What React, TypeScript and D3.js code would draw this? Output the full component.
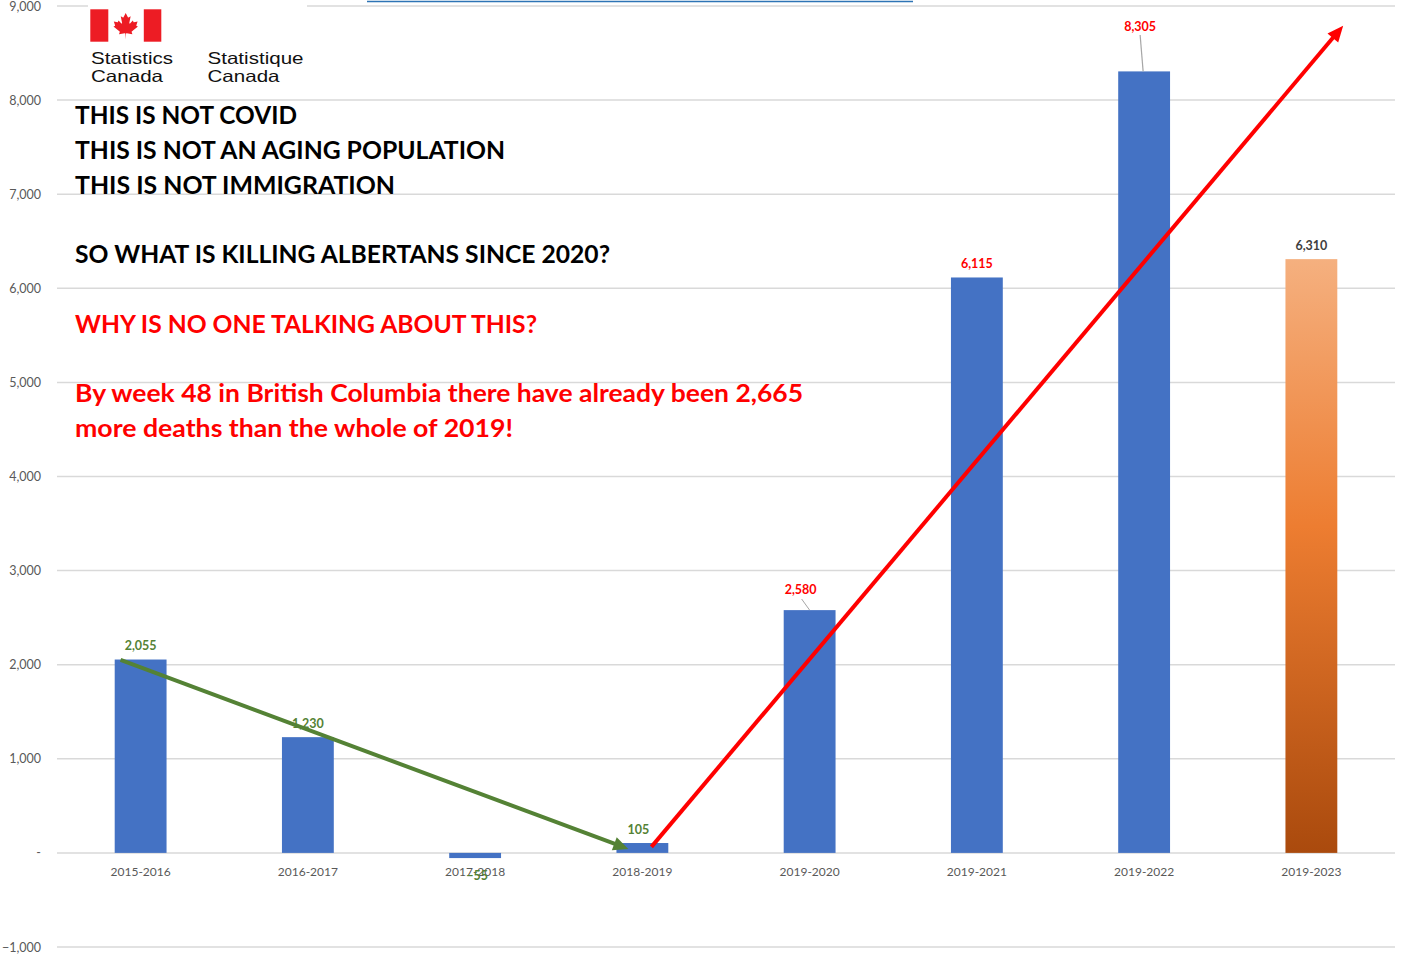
import React from "react";
import * as d3 from "d3";

const categories = ["2015-2016", "2016-2017", "2017-2018", "2018-2019", "2019-2020", "2019-2021", "2019-2022", "2019-2023"];
const values = [2055, 1230, -55, 105, 2580, 6115, 8305, 6310];
const labelColors = ["#548235", "#548235", "#548235", "#548235", "#FF0000", "#FF0000", "#FF0000", "#404040"];
const yTicks = [-1000, 0, 1000, 2000, 3000, 4000, 5000, 6000, 7000, 8000, 9000];
const blackLines = ["THIS IS NOT COVID", "THIS IS NOT AN AGING POPULATION", "THIS IS NOT IMMIGRATION"];
const question = "SO WHAT IS KILLING ALBERTANS SINCE 2020?";
const redLines = ["WHY IS NO ONE TALKING ABOUT THIS?", "By week 48 in British Columbia there have already been 2,665", "more deaths than the whole of 2019!"];
// arrows in data space: [category index offset, value]
const greenArrow = [[-0.12, 2050], [2.916, 42]];
const redArrow = [[3.054, 64], [7.19, 8790]];

const W = 1405, H = 957;
const LEFT = 57, RIGHT = 1395;

const fmt = (v: number) => (v === 0 ? "-" : d3.format(",")(v));

function arrowHead(x1: number, y1: number, x2: number, y2: number, len: number, half: number) {
  const a = Math.atan2(y2 - y1, x2 - x1);
  const bx = x2 - len * Math.cos(a), by = y2 - len * Math.sin(a);
  const px = -Math.sin(a), py = Math.cos(a);
  return `M${x2},${y2}L${bx + px * half},${by + py * half}L${bx - px * half},${by - py * half}Z`;
}

const leafPath =
  "M0,0l45,-863a95,95 0 0 1 111,-98l859,151l-116,-320a65,65 0 0 1 20,-73l941,-762l-212,-99a65,65 0 0 1 -34,-79l186,-572l-542,115a65,65 0 0 1 -73,-38l-105,-247l-423,454a65,65 0 0 1 -111,-57l204,-1052l-327,189a65,65 0 0 1 -91,-27l-332,-652l-332,652a65,65 0 0 1 -91,27l-327,-189l204,1052a65,65 0 0 1 -111,57l-423,-454l-105,247a65,65 0 0 1 -73,38l-542,-115l186,572a65,65 0 0 1 -34,79l-212,99l941,762a65,65 0 0 1 20,73l-116,320l859,-151a95,95 0 0 1 111,98l45,863z";

export default function App() {
  const x = d3.scaleBand<string>().domain(categories).range([LEFT, RIGHT]).paddingInner(0.69).paddingOuter(0.345);
  const y = d3.scaleLinear().domain([-1000, 9000]).range([947, 6]);
  const step = x.step();
  const cx = (i: number) => (x(categories[0]) as number) + x.bandwidth() / 2 + i * step;
  const ax = (p: number[]) => [cx(p[0]), y(p[1])];

  const g1 = ax(greenArrow[0]), g2 = ax(greenArrow[1]);
  const r1 = ax(redArrow[0]), r2 = ax(redArrow[1]);

  const labelFont = "Lato, 'Open Sans', sans-serif";

  return (
    <svg width={W} height={H} style={{ position: "absolute", left: 0, top: 0, background: "#fff" }} fontFamily={labelFont}>
      <defs>
        <linearGradient id="og" x1="0" y1="0" x2="0" y2="1">
          <stop offset="0" stopColor="#F5B07F" />
          <stop offset="0.45" stopColor="#ED7D31" />
          <stop offset="1" stopColor="#AA4A0D" />
        </linearGradient>
      </defs>
      <rect width={W} height={H} fill="#fff" />
      {/* gridlines */}
      {yTicks.map((t) => (
        <g key={t}>
          <line x1={LEFT} x2={RIGHT} y1={y(t)} y2={y(t)} stroke="#D9D9D9" strokeWidth={1.5} />
          <text x={41} y={Math.max(11, y(t) + 4.5)} textAnchor="end" fontSize={12.5} fill="#595959">{fmt(t)}</text>
        </g>
      ))}
      {/* top link underline (cut off) */}
      <line x1={367} x2={913} y1={1.5} y2={1.5} stroke="#2E74B5" strokeWidth={1.5} />
      {/* logo */}
      <rect x={88} y={0} width={219} height={92} fill="#fff" />
      <rect x={90.3} y={9.3} width={18} height={32.4} fill="#ED1C24" />
      <rect x={143.8} y={9.3} width={17.5} height={32.4} fill="#ED1C24" />
      <path d={leafPath} fill="#ED1C24" transform="translate(125.7,39.5) scale(0.0066)" />
      <g fontFamily="'Liberation Sans', Arial, sans-serif" fontSize={16.5} fill="#111">
        <text x={91} y={64} textLength={82} lengthAdjust="spacingAndGlyphs">Statistics</text>
        <text x={91} y={81.5} textLength={72} lengthAdjust="spacingAndGlyphs">Canada</text>
        <text x={207.5} y={64} textLength={96} lengthAdjust="spacingAndGlyphs">Statistique</text>
        <text x={207.5} y={81.5} textLength={72} lengthAdjust="spacingAndGlyphs">Canada</text>
      </g>
      {/* bars */}
      {values.map((v, i) => (
        <rect
          key={categories[i]}
          x={x(categories[i])}
          width={x.bandwidth()}
          y={y(Math.max(0, v))}
          height={Math.abs(y(v) - y(0))}
          fill={i === values.length - 1 ? "url(#og)" : "#4472C4"}
        />
      ))}
      {/* x labels */}
      {categories.map((c) => (
        <text key={c} x={(x(c) as number) + x.bandwidth() / 2} y={876} textAnchor="middle" fontSize={12} fill="#595959">{c}</text>
      ))}
      {/* leader lines */}
      <line x1={cx(4) - 8} y1={599} x2={cx(4)} y2={y(values[4])} stroke="#A6A6A6" strokeWidth={1} />
      <line x1={cx(6) - 4} y1={35} x2={cx(6) - 1} y2={y(values[6])} stroke="#A6A6A6" strokeWidth={1.2} />
      {/* arrows */}
      <line x1={g1[0]} y1={g1[1]} x2={g2[0] - 8} y2={g2[1] - 3} stroke="#548235" strokeWidth={4} />
      <path d={arrowHead(g1[0], g1[1], g2[0], g2[1], 15, 7)} fill="#548235" />
      <line x1={r1[0]} y1={r1[1]} x2={r2[0] - 6} y2={r2[1] + 7} stroke="#FF0000" strokeWidth={4} />
      <path d={arrowHead(r1[0], r1[1], r2[0], r2[1], 16, 7)} fill="#FF0000" />
      {/* data labels */}
      {values.map((v, i) => {
        let lx = cx(i), ly = y(Math.max(0, v)) - 9.5;
        if (i === 2) { lx = cx(i) + 2; ly = 880; }
        if (i === 4) { lx = cx(i) - 9; ly = 594; }
        if (i === 6) { lx = cx(i) - 4; ly = 31; }
        if (i === 3) { lx = cx(i) - 4; }
        return (
          <text key={i} x={lx} y={ly} textAnchor="middle" fontSize={12.5} fontWeight={700} fill={labelColors[i]}>{d3.format(",")(v)}</text>
        );
      })}
      {/* annotation text */}
      <g fontFamily="Lato, 'Open Sans', sans-serif" fontWeight={700} fontSize={24}>
        {blackLines.map((t, i) => (
          <text key={t} x={75} y={124 + i * 35} fill="#000" textLength={[222, 430, 320][i]} lengthAdjust="spacingAndGlyphs">{t}</text>
        ))}
        <text x={75} y={263} fill="#000" textLength={535} lengthAdjust="spacingAndGlyphs">{question}</text>
        <text x={75} y={333} fill="#FF0000" textLength={462} lengthAdjust="spacingAndGlyphs">{redLines[0]}</text>
        <text x={75} y={402} fill="#FF0000" textLength={728} lengthAdjust="spacingAndGlyphs">{redLines[1]}</text>
        <text x={75} y={437} fill="#FF0000" textLength={438} lengthAdjust="spacingAndGlyphs">{redLines[2]}</text>
      </g>
    </svg>
  );
}
